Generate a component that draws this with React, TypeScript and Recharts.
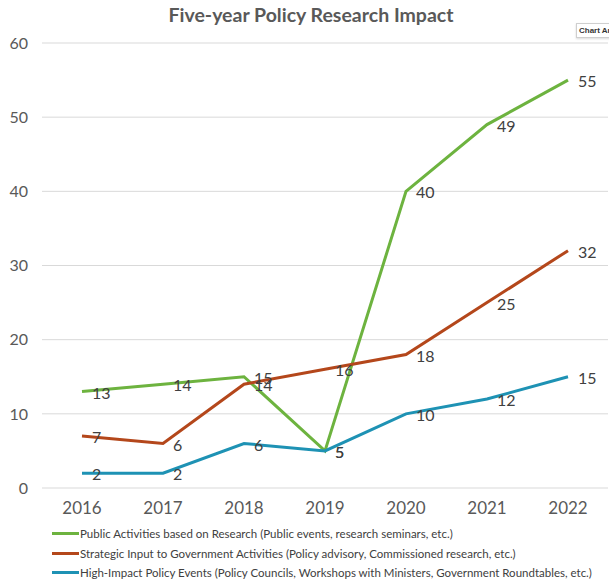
import React from "react";
import {
  LineChart,
  Line,
  XAxis,
  YAxis,
  CartesianGrid,
  Legend,
  LabelList,
} from "recharts";

const years = ["2016", "2017", "2018", "2019", "2020", "2021", "2022"];
const publicActivities = [13, 14, 15, 5, 40, 49, 55];
const strategicInput = [7, 6, 14, 16, 18, 25, 32];
const highImpact = [2, 2, 6, 5, 10, 12, 15];
const yTicks = [0, 10, 20, 30, 40, 50, 60];

const series = [
  {
    key: "publicActivities",
    name: "Public Activities based on Research (Public events, research seminars, etc.)",
    color: "#6db33f",
  },
  {
    key: "strategicInput",
    name: "Strategic Input to Government Activities (Policy advisory, Commissioned research, etc.)",
    color: "#b4471b",
  },
  {
    key: "highImpact",
    name: "High-Impact Policy Events (Policy Councils, Workshops with Ministers, Government Roundtables, etc.)",
    color: "#1e92b4",
  },
];

const data = years.map((year, i) => ({
  year,
  publicActivities: publicActivities[i],
  strategicInput: strategicInput[i],
  highImpact: highImpact[i],
}));

const FONT = "Lato, 'Open Sans', sans-serif";

const renderValueLabel = (props: any) => {
  const { x, y, value } = props;
  return (
    <text
      x={x + 10}
      y={y + 3}
      fill="#404040"
      fontSize={16}
      fontFamily={FONT}
      dominantBaseline="middle"
    >
      {value}
    </text>
  );
};

const renderLegend = () => (
  <div
    style={{
      height: 65,
      paddingTop: 6,
      paddingLeft: 52,
      boxSizing: "border-box",
      fontFamily: FONT,
      fontSize: 11.5,
      color: "#404040",
    }}
  >
    {series.map((s) => (
      <div
        key={s.key}
        style={{ height: 19.5, display: "flex", alignItems: "center", whiteSpace: "nowrap" }}
      >
        <span
          style={{
            display: "inline-block",
            width: 27,
            height: 3,
            background: s.color,
            marginRight: 1,
          }}
        />
        <span>{s.name}</span>
      </div>
    ))}
  </div>
);

export default function App() {
  return (
    <div
      style={{
        position: "absolute",
        left: 0,
        top: 0,
        width: 609,
        height: 583,
        background: "#fff",
        overflow: "hidden",
      }}
    >
      <div
        style={{
          position: "absolute",
          left: 0,
          width: 622,
          top: 3,
          textAlign: "center",
          fontFamily: FONT,
          fontWeight: 700,
          fontSize: 19.5,
          color: "#595959",
        }}
      >
        Five-year Policy Research Impact
      </div>
      <div
        style={{
          position: "absolute",
          left: 576,
          top: 23,
          width: 60,
          height: 13,
          border: "1px solid #cfcfcf",
          background: "#fff",
          boxShadow: "0 1px 2px rgba(0,0,0,0.15)",
          fontFamily: "'Liberation Sans', Arial, sans-serif",
          fontWeight: 700,
          fontSize: 8,
          lineHeight: "13px",
          paddingLeft: 2,
          color: "#333",
          whiteSpace: "nowrap",
          zIndex: 2,
        }}
      >
        Chart Area
      </div>
      <LineChart
        width={609}
        height={583}
        data={data}
        margin={{ top: 43, right: 1, left: 0, bottom: 0 }}
      >
        <CartesianGrid vertical={false} stroke="#d9d9d9" />
        <XAxis
          dataKey="year"
          axisLine={false}
          tickLine={false}
          tickSize={0}
          tickMargin={14}
          height={30}
          padding={{ left: 40, right: 40 }}
          tick={{ fill: "#595959", fontSize: 17, fontFamily: FONT }}
        />
        <YAxis
          domain={[0, 60]}
          ticks={yTicks}
          width={42}
          axisLine={false}
          tickLine={false}
          tickSize={0}
          tickMargin={14}
          tick={{ fill: "#595959", fontSize: 16, fontFamily: FONT }}
        />
        <Legend verticalAlign="bottom" align="left" content={renderLegend} />
        {series.map((s) => (
          <Line
            key={s.key}
            dataKey={s.key}
            name={s.name}
            stroke={s.color}
            strokeWidth={3}
            dot={false}
            activeDot={false}
            type="linear"
            isAnimationActive={false}
          >
            <LabelList dataKey={s.key} content={renderValueLabel} />
          </Line>
        ))}
      </LineChart>
    </div>
  );
}
